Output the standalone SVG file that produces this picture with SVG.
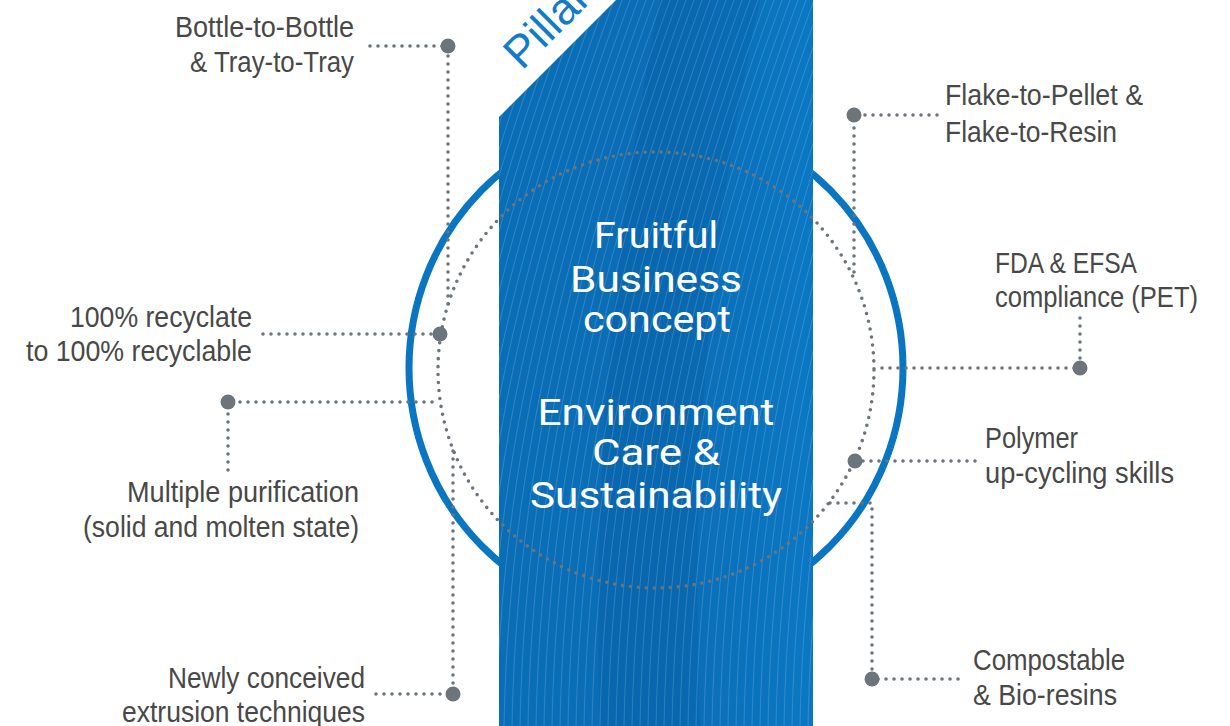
<svg xmlns="http://www.w3.org/2000/svg" width="1230" height="726" viewBox="0 0 1230 726">
  <style>
    .label { font-family: "Liberation Sans", Arial, sans-serif; font-size: 30px; fill: #484848; }
    .center { font-family: Roboto, "Liberation Sans", sans-serif; font-size: 37px; fill: #ffffff; text-anchor: middle; }
    .dots { fill: none; stroke: #6c747c; stroke-width: 3.6; stroke-linecap: round; stroke-dasharray: 0 8; }
    .node-dot { fill: #6c747c; }
  </style>
  <defs>
    <clipPath id="bandClip">
      <rect x="499" y="0" width="314" height="726"/>
    </clipPath>
    <linearGradient id="bandShade" x1="0" y1="0" x2="1" y2="0">
      <stop offset="0" stop-color="#0a6eb7"/>
      <stop offset="0.55" stop-color="#0a6db6"/>
      <stop offset="1" stop-color="#0b77c3"/>
    </linearGradient>
  </defs>

  <rect width="1230" height="726" fill="#ffffff"/>

  <!-- outer ring behind the band -->
  <ellipse cx="656" cy="368" rx="247" ry="251" fill="none" stroke="#0a75c1" stroke-width="7"/>

  <!-- central band with line texture -->
  <g id="band">
    <rect x="499" y="0" width="314" height="726" fill="url(#bandShade)"/>
    <g clip-path="url(#bandClip)">
      <path d="M600 726C592 500 610 250 660 0L760 0C705 250 690 500 700 726Z" fill="#00437c" opacity="0.12"/>
      <path fill="none" stroke="#ffffff" stroke-width="0.9" opacity="0.18" d="M344 726c4-206 40-426 150-726M352 726c4-206 40-426 150-726M360 726c4-206 40-426 150-726M368 726c4-206 40-426 150-726M376 726c4-206 40-426 150-726M384 726c4-206 40-426 150-726M392 726c4-206 40-426 150-726M400 726c4-206 40-426 150-726M408 726c4-206 40-426 150-726M416 726c4-206 40-426 150-726M424 726c4-206 40-426 150-726M432 726c4-206 40-426 150-726M440 726c4-206 40-426 150-726M448 726c4-206 40-426 150-726M456 726c4-206 40-426 150-726M464 726c4-206 40-426 150-726M472 726c4-206 40-426 150-726M480 726c4-206 40-426 150-726M488 726c4-206 40-426 150-726M496 726c4-206 40-426 150-726M504 726c4-206 40-426 150-726M512 726c4-206 40-426 150-726M520 726c4-206 40-426 150-726M528 726c4-206 40-426 150-726M536 726c4-206 40-426 150-726M544 726c4-206 40-426 150-726M552 726c4-206 40-426 150-726M560 726c4-206 40-426 150-726M568 726c4-206 40-426 150-726M576 726c4-206 40-426 150-726M584 726c4-206 40-426 150-726M592 726c4-206 40-426 150-726M600 726c4-206 40-426 150-726M608 726c4-206 40-426 150-726M616 726c4-206 40-426 150-726M624 726c4-206 40-426 150-726M632 726c4-206 40-426 150-726M640 726c4-206 40-426 150-726M648 726c4-206 40-426 150-726M656 726c4-206 40-426 150-726M664 726c4-206 40-426 150-726M672 726c4-206 40-426 150-726M680 726c4-206 40-426 150-726M688 726c4-206 40-426 150-726M696 726c4-206 40-426 150-726M704 726c4-206 40-426 150-726M712 726c4-206 40-426 150-726M720 726c4-206 40-426 150-726M728 726c4-206 40-426 150-726M736 726c4-206 40-426 150-726M744 726c4-206 40-426 150-726M752 726c4-206 40-426 150-726M760 726c4-206 40-426 150-726M768 726c4-206 40-426 150-726M776 726c4-206 40-426 150-726M784 726c4-206 40-426 150-726M792 726c4-206 40-426 150-726M800 726c4-206 40-426 150-726M808 726c4-206 40-426 150-726M816 726c4-206 40-426 150-726"/>
    </g>
    <!-- cut corner with the heading -->
    <polygon points="499,0 616,0 499,117" fill="#ffffff"/>
    <text x="522" y="71" transform="rotate(-45 522 71)" font-family="'Liberation Sans', Arial, sans-serif" font-size="45" fill="#137bc7">Pillar</text>
  </g>

  <g id="center-text">
    <text class="center" x="656" y="248" textLength="124" lengthAdjust="spacingAndGlyphs">Fruitful</text>
    <text class="center" x="656" y="292" textLength="172" lengthAdjust="spacingAndGlyphs">Business</text>
    <text class="center" x="657" y="332" textLength="148" lengthAdjust="spacingAndGlyphs">concept</text>
    <text class="center" x="656" y="425" textLength="237" lengthAdjust="spacingAndGlyphs">Environment</text>
    <text class="center" x="656" y="465" textLength="128" lengthAdjust="spacingAndGlyphs">Care &amp;</text>
    <text class="center" x="656" y="508" textLength="252" lengthAdjust="spacingAndGlyphs">Sustainability</text>
  </g>

  <!-- connectors: dotted hub circle and leader lines -->
  <g id="connectors">
    <circle class="dots" cx="656" cy="370" r="218"/>
    <path class="dots" d="M370 46H448V305"/>
    <path class="dots" d="M263 334H440"/>
    <path class="dots" d="M228 470V402H440"/>
    <path class="dots" d="M376 694H453V450"/>
    <path class="dots" d="M937 115H854V279"/>
    <path class="dots" d="M1080 318V368H874"/>
    <path class="dots" d="M975 461H855"/>
    <path class="dots" d="M958 679H872V503H829"/>
  </g>

  <g id="node-bottle">
    <circle class="node-dot" cx="448" cy="46" r="7.5"/>
    <text class="label" x="354" y="37" text-anchor="end" textLength="179" lengthAdjust="spacingAndGlyphs">Bottle-to-Bottle</text>
    <text class="label" x="354" y="72" text-anchor="end" textLength="164" lengthAdjust="spacingAndGlyphs">&amp; Tray-to-Tray</text>
  </g>
  <g id="node-recyclate">
    <circle class="node-dot" cx="440" cy="334" r="7.5"/>
    <text class="label" x="252" y="327" text-anchor="end" textLength="182" lengthAdjust="spacingAndGlyphs">100% recyclate</text>
    <text class="label" x="252" y="361" text-anchor="end" textLength="226" lengthAdjust="spacingAndGlyphs">to 100% recyclable</text>
  </g>
  <g id="node-purification">
    <circle class="node-dot" cx="228" cy="402" r="7.5"/>
    <text class="label" x="359" y="502" text-anchor="end" textLength="232" lengthAdjust="spacingAndGlyphs">Multiple purification</text>
    <text class="label" x="359" y="537" text-anchor="end" textLength="276" lengthAdjust="spacingAndGlyphs">(solid and molten state)</text>
  </g>
  <g id="node-extrusion">
    <circle class="node-dot" cx="453" cy="694" r="7.5"/>
    <text class="label" x="365" y="688" text-anchor="end" textLength="197" lengthAdjust="spacingAndGlyphs">Newly conceived</text>
    <text class="label" x="365" y="722" text-anchor="end" textLength="243" lengthAdjust="spacingAndGlyphs">extrusion techniques</text>
  </g>
  <g id="node-flake">
    <circle class="node-dot" cx="854" cy="115" r="7.5"/>
    <text class="label" x="945" y="105" textLength="198" lengthAdjust="spacingAndGlyphs">Flake-to-Pellet &amp;</text>
    <text class="label" x="945" y="142" textLength="172" lengthAdjust="spacingAndGlyphs">Flake-to-Resin</text>
  </g>
  <g id="node-fda">
    <circle class="node-dot" cx="1080" cy="368" r="7.5"/>
    <text class="label" x="995" y="273" textLength="142" lengthAdjust="spacingAndGlyphs">FDA &amp; EFSA</text>
    <text class="label" x="995" y="307" textLength="203" lengthAdjust="spacingAndGlyphs">compliance (PET)</text>
  </g>
  <g id="node-polymer">
    <circle class="node-dot" cx="855" cy="461" r="7.5"/>
    <text class="label" x="985" y="448" textLength="93" lengthAdjust="spacingAndGlyphs">Polymer</text>
    <text class="label" x="985" y="483" textLength="189" lengthAdjust="spacingAndGlyphs">up-cycling skills</text>
  </g>
  <g id="node-compostable">
    <circle class="node-dot" cx="872" cy="679" r="7.5"/>
    <text class="label" x="973" y="670" textLength="152" lengthAdjust="spacingAndGlyphs">Compostable</text>
    <text class="label" x="973" y="705" textLength="144" lengthAdjust="spacingAndGlyphs">&amp; Bio-resins</text>
  </g>
</svg>
